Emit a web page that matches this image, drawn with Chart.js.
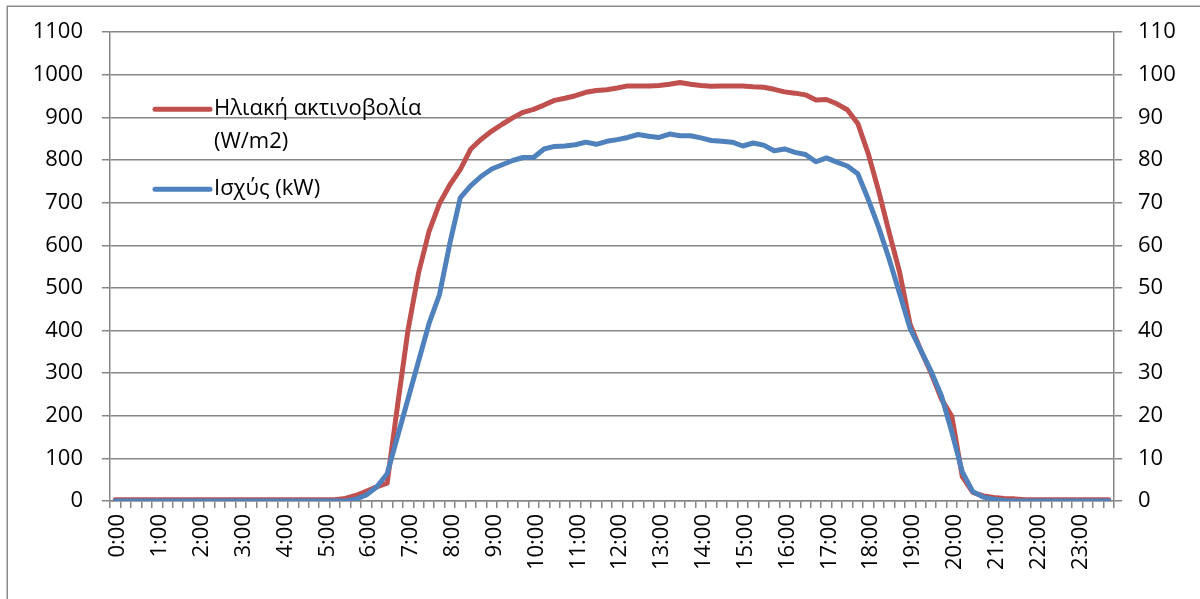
<!DOCTYPE html>
<html>
<head>
<meta charset="utf-8">
<script src="https://cdn.jsdelivr.net/npm/chart.js@4/dist/chart.umd.min.js"></script>
<style>
  html, body { margin: 0; padding: 0; background: #ffffff; }
  canvas { display: block; }
</style>
</head>
<body>
<canvas id="chart" width="1200" height="599"></canvas>
<script>
// Hour labels shown under the time axis
const hourLabels = ['0:00','1:00','2:00','3:00','4:00','5:00','6:00','7:00','8:00','9:00','10:00','11:00',
  '12:00','13:00','14:00','15:00','16:00','17:00','18:00','19:00','20:00','21:00','22:00','23:00'];
const quarterSuffixes = [':00', ':15', ':30', ':45'];

// Solar irradiance, W/m2, one row per hour (15-minute samples)
const irradiance = [
  3, 3, 3, 3,
  3, 3, 3, 3,
  3, 3, 3, 3,
  3, 3, 3, 3,
  3, 3, 3, 3,
  3, 3, 6, 13,
  23, 33, 42, 225,
  402, 535, 632, 698,
  742, 778, 826, 849,
  868, 884, 899, 912,
  919, 929, 940, 945,
  951, 959, 963, 965,
  969, 974, 974, 974,
  975, 978, 982, 978,
  975, 973, 974, 974,
  974, 972, 971, 966,
  960, 957, 953, 941,
  942, 932, 918, 886,
  815, 727, 630, 537,
  415, 355, 301, 239,
  198, 57, 20, 12,
  8, 6, 5, 3,
  3, 3, 3, 3,
  3, 3, 3, 3
];

// PV power output, kW, one row per hour (15-minute samples)
const power = [
  0, 0, 0, 0,
  0, 0, 0, 0,
  0, 0, 0, 0,
  0, 0, 0, 0,
  0, 0, 0, 0,
  0, 0, 0, 0.4,
  1.4, 3.3, 6.4, 15.2,
  24, 32.8, 41.6, 48.4,
  60.5, 71.2, 74, 76.2,
  77.9, 78.9, 79.9, 80.6,
  80.6, 82.6, 83.2, 83.3,
  83.6, 84.2, 83.7, 84.4,
  84.8, 85.3, 86.0, 85.6,
  85.3, 86.1, 85.7, 85.7,
  85.2, 84.6, 84.4, 84.2,
  83.3, 84.0, 83.5, 82.2,
  82.6, 81.8, 81.3, 79.6,
  80.5, 79.5, 78.6, 76.8,
  70.8, 64.2, 56.8, 48.7,
  40.5, 35.5, 30.5, 24.7,
  16.1, 6.8, 2.2, 0.9,
  0.4, 0.1, 0, 0,
  0, 0, 0, 0,
  0, 0, 0, 0
];

const irradianceLabel = ['Ηλιακή ακτινοβολία', '(W/m2)'];
const powerLabel = 'Ισχύς (kW)';

// 96 quarter-hour categories built from the hour labels
const categories = [];
hourLabels.forEach(h => {
  const hh = h.split(':')[0];
  quarterSuffixes.forEach(s => categories.push(hh + s));
});

const RED = '#C0504D';
const BLUE = '#4F81BD';
const GRID = '#868686';
const FONT = '"Open Sans", "Noto Sans", sans-serif';
const FONT_SIZE = 22;

// Frame around the chart and an in-plot legend
const decorations = {
  id: 'decorations',
  beforeDraw(chart) {
    const ctx = chart.ctx;
    ctx.save();
    ctx.fillStyle = '#ffffff';
    ctx.fillRect(0, 0, chart.width, chart.height);
    ctx.strokeStyle = '#8a8a8a';
    ctx.lineWidth = 1.5;
    ctx.strokeRect(7.25, 6.25, chart.width + 10, chart.height + 10);
    ctx.restore();
  },
  afterDraw(chart) {
    const ctx = chart.ctx;
    const a = chart.chartArea;
    const x0 = a.left + 45, x1 = a.left + 100, tx = a.left + 104;
    const ds = chart.data.datasets;
    const items = [
      { color: ds[0].borderColor, lines: irradianceLabel, y: a.top + 77 },
      { color: ds[1].borderColor, lines: [powerLabel], y: a.top + 157 }
    ];
    ctx.save();
    ctx.font = FONT_SIZE + 'px ' + FONT;
    ctx.textBaseline = 'middle';
    ctx.textAlign = 'left';
    items.forEach(it => {
      ctx.strokeStyle = it.color;
      ctx.lineWidth = 5;
      ctx.lineCap = 'round';
      ctx.beginPath();
      ctx.moveTo(x0, it.y);
      ctx.lineTo(x1, it.y);
      ctx.stroke();
      ctx.fillStyle = '#000000';
      it.lines.forEach((t, k) => ctx.fillText(t, tx, it.y + k * 33));
    });
    ctx.restore();
  }
};

new Chart(document.getElementById('chart'), {
  type: 'line',
  data: {
    labels: categories,
    datasets: [
      {
        label: irradianceLabel.join(' '),
        data: irradiance,
        yAxisID: 'y',
        borderColor: RED,
        backgroundColor: RED,
        borderWidth: 5,
        pointRadius: 0,
        borderJoinStyle: 'round',
        borderCapStyle: 'round',
        tension: 0,
        order: 1
      },
      {
        label: powerLabel,
        data: power,
        yAxisID: 'y1',
        borderColor: BLUE,
        backgroundColor: BLUE,
        borderWidth: 5,
        pointRadius: 0,
        borderJoinStyle: 'round',
        borderCapStyle: 'round',
        tension: 0,
        order: 0
      }
    ]
  },
  options: {
    responsive: false,
    animation: false,
    layout: { padding: { top: 27, left: 0, right: 0, bottom: 0 } },
    plugins: { legend: { display: false }, tooltip: { enabled: false } },
    scales: {
      x: {
        type: 'category',
        offset: true,
        grid: { offset: true, drawOnChartArea: false, drawTicks: true, tickLength: 7, color: GRID, lineWidth: 1.5 },
        border: { color: GRID, width: 1.5 },
        ticks: {
          autoSkip: false,
          maxRotation: 90,
          minRotation: 90,
          padding: 6,
          labelOffset: 3,
          color: '#000000',
          font: { family: FONT, size: FONT_SIZE },
          callback(value) {
            const lbl = this.getLabelForValue(value);
            return hourLabels.includes(lbl) ? lbl : '';
          }
        },
        afterFit(scale) { scale.height = 98; }
      },
      y: {
        position: 'left',
        min: 0,
        max: 1100,
        grid: { color: GRID, lineWidth: 1.5, tickLength: 8 },
        border: { color: GRID, width: 1.5 },
        ticks: {
          stepSize: 100,
          padding: 19,
          color: '#000000',
          font: { family: FONT, size: FONT_SIZE },
          callback: v => String(v)
        },
        afterFit(scale) { scale.width = 110; }
      },
      y1: {
        position: 'right',
        min: 0,
        max: 110,
        grid: { drawOnChartArea: false, color: GRID, lineWidth: 1.5, tickLength: 8 },
        border: { color: GRID, width: 1.5 },
        ticks: {
          stepSize: 10,
          padding: 16,
          color: '#000000',
          font: { family: FONT, size: FONT_SIZE },
          callback: v => String(v)
        },
        afterFit(scale) { scale.width = 86; }
      }
    }
  },
  plugins: [decorations]
});
</script>
</body>
</html>
